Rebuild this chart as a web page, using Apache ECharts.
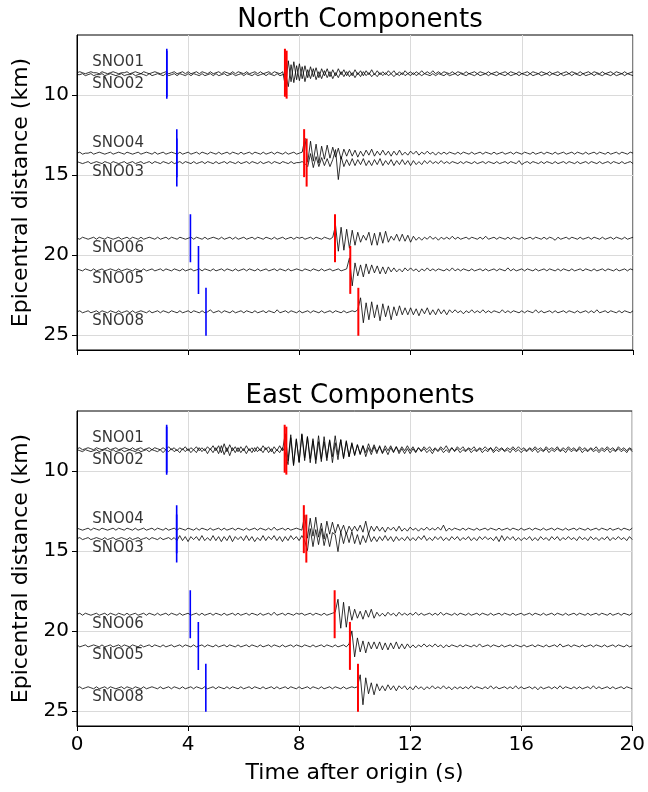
<!DOCTYPE html>
<html>
<head>
<meta charset="utf-8">
<script src="https://cdn.jsdelivr.net/npm/echarts@6/dist/echarts.min.js"></script>
<style>
html,body{margin:0;padding:0;background:#fff}
#chart{width:648px;height:792px}
</style>
</head>
<body>
<div id="chart"></div>
<script>
// Sampling of the seismogram traces
const DT = 0.1;        // seconds per sample
const AMP = 1 / 16;    // km of plot offset per amplitude unit

// Stations, epicentral distances (km) and phase picks (s after origin)
const stations = ['SNO01', 'SNO02', 'SNO04', 'SNO03', 'SNO06', 'SNO05', 'SNO08'];
const distances = [8.61, 8.73, 13.64, 14.23, 18.96, 20.94, 23.56];
const pPicks = [3.23, 3.23, 3.59, 3.59, 4.08, 4.37, 4.64];
const sPicks = [7.48, 7.54, 8.17, 8.26, 9.28, 9.83, 10.12];
const labelAbove = [true, false, true, false, false, false, false];

const xTicks = [0, 4, 8, 12, 16, 20];
const yTicks = [10, 15, 20, 25];
const panelTitles = ['North Components', 'East Components'];

// North component traces (amplitude units, one sample every DT seconds)
const northSNO01 = [
0,1,0,-1,0,1,0,0,-1,1,0,-1,0,1,0,-1,0,0,1,-1,
0,1,0,-1,1,0,-1,0,1,0,-1,0,1,-1,0,1,-1,0,1,-1,
1,-1,0,1,-1,1,0,-1,1,-1,0,1,-1,1,0,-1,1,-1,1,0,
-1,1,-1,0,1,-1,1,-1,0,1,-1,1,0,-1,1,-14,12,-9,11,-7,
9,-6,7,-5,6,-4,5,-5,4,-3,4,-4,3,-3,4,-2,3,-3,2,-3,
3,-2,2,-3,2,-2,3,-2,2,-2,1,-2,2,-1,2,-2,1,-2,2,-1,
1,-2,1,-1,2,-1,1,-1,2,-1,1,-1,1,0,-1,1,-1,1,0,-1,
1,-1,0,1,-1,1,0,-1,1,-1,0,1,-1,0,1,-1,1,0,-1,1,
-1,0,1,-1,1,0,-1,1,0,-1,1,-1,0,1,-1,0,1,-1,1,0,
-1,1,-1,0,1,-1,1,0,-1,1,-1,0,1,-1,1,0,-1,1,-1,0,1];
const northSNO02 = [
0,0,1,-1,0,1,-1,0,0,1,-1,0,1,0,-1,0,1,-1,0,0,
1,-1,0,1,0,-1,1,-1,0,1,0,-1,1,-1,0,1,-1,1,0,-1,
1,-1,1,0,-1,1,-1,0,1,-1,1,-1,0,1,-1,0,1,-1,0,1,
-1,1,0,-1,1,-1,0,1,-1,1,0,-1,1,-1,0,1,-12,10,-8,9,
-6,8,-7,5,-4,6,-5,3,-4,4,-3,3,-4,2,-3,3,-2,3,-2,2,
-3,2,-2,3,-1,2,-2,1,-2,2,-1,2,-1,1,-2,1,-1,2,-1,1,
-1,2,-1,1,-1,1,0,-1,1,-1,1,0,-1,1,-1,0,1,-1,1,0,
-1,1,0,-1,1,-1,0,1,-1,1,0,-1,1,0,-1,1,-1,0,1,-1,
1,0,-1,1,-1,0,1,-1,0,1,-1,1,0,-1,1,-1,0,1,-1,1,
0,-1,1,-1,0,1,-1,1,0,-1,1,0,-1,1,-1,0,1,-1,1,0,-1];
const northSNO04 = [
0,1,-1,0,0,1,-1,0,1,0,-1,0,1,-1,0,1,0,-1,1,0,
-1,0,1,-1,0,1,0,-1,1,-1,0,1,-1,0,1,0,-1,1,-1,0,
1,-1,0,1,-1,1,0,-1,1,0,-1,1,-1,0,1,-1,1,0,-1,1,
-1,0,1,-1,1,0,-1,1,-1,0,1,-1,1,0,-1,1,-1,0,1,-1,
0,1,15,-9,12,-8,9,-10,7,-6,8,-5,6,-4,5,-6,4,-3,4,-3,
3,-4,2,-3,3,-2,4,-3,2,-2,3,-2,2,-3,2,-2,3,-2,1,-2,
2,-1,2,-2,1,-1,2,-1,1,-2,1,-1,1,-1,1,0,-1,1,-1,1,
0,-1,1,-1,0,1,-1,1,0,-1,1,-1,0,1,-1,0,1,-1,1,0,
-1,1,0,-1,1,-1,0,1,-1,1,0,-1,1,-1,0,1,-1,0,1,-1,
1,0,-1,1,-1,0,1,-1,1,0,-1,1,-1,0,1,-1,1,0,-1,1,0];
const northSNO03 = [
1,0,-1,0,1,-1,0,1,0,-1,1,0,-1,1,0,-1,0,1,-1,0,
1,-1,0,1,-1,0,1,-1,1,0,-1,1,0,-1,1,-1,0,1,-1,1,
0,-1,1,-1,0,1,-1,1,0,-1,1,-1,0,1,-1,1,0,-1,1,-1,
0,1,-1,1,0,-1,1,-1,0,1,-1,1,0,-1,1,0,-1,1,-1,0,
0,1,-1,-4,9,-5,6,-4,5,-3,4,-4,3,13,-17,6,-4,3,-3,4,
-3,3,-2,4,-3,2,-3,3,-2,4,-3,2,-2,3,-3,2,-2,3,-2,2,
-3,2,-2,1,-2,2,-1,2,-1,1,-1,2,-1,1,-1,1,0,-1,1,-1,
1,0,-1,1,-1,0,1,-1,1,0,-1,1,-1,0,1,-1,1,0,-1,2,
-2,0,1,-1,1,0,-1,1,-1,1,0,-1,1,-1,0,1,-1,1,0,-1,
1,-1,0,1,-1,1,0,-1,1,-1,0,1,-1,1,0,-1,1,-1,0,1,-1];
const northSNO06 = [
0,-1,1,0,-1,0,1,-1,1,0,-1,1,0,-1,0,1,-1,0,1,-1,
1,0,-1,1,-1,0,1,0,-1,1,-1,0,1,-1,1,0,-1,1,0,-1,
0,1,-1,1,0,-1,1,-1,0,1,0,-1,1,-1,0,1,-1,1,-1,0,
1,-1,0,1,-1,1,0,-1,1,0,-1,1,-1,0,1,-1,0,1,-1,1,
0,1,-1,0,1,-1,1,0,-1,1,0,-1,1,13,-13,11,-12,9,-10,8,
-7,6,-4,3,-2,6,-7,5,-7,6,-5,7,-4,2,-2,4,-3,4,-3,3,
-4,2,-2,1,-2,1,-1,2,-1,1,-2,1,-1,1,-1,2,-1,1,-1,0,
1,-1,1,0,-1,1,-1,2,-1,0,1,-1,1,0,-1,1,-1,1,0,-1,
1,-1,0,1,-1,1,0,-1,1,-1,1,0,-2,1,-1,0,1,-1,1,0,
-1,1,-1,0,1,-1,1,0,-1,1,-1,0,1,-1,1,0,-1,1,-1,0,1];
const northSNO05 = [
1,0,-1,1,0,-1,1,-1,0,1,-1,0,1,0,-1,1,-1,0,1,0,
-1,1,0,-1,1,-1,0,1,-1,0,1,-1,1,0,-1,1,0,-1,1,-1,
0,1,-1,0,1,-1,1,0,-1,1,-1,0,1,-1,1,0,-1,1,-1,0,
1,-1,1,0,-1,1,-1,0,1,-1,0,1,-1,1,0,-1,1,-1,0,1,
0,-1,1,0,-1,1,0,-1,1,-1,0,1,-1,0,1,-1,0,1,12,-16,
7,-6,5,-7,6,-4,5,-3,4,-4,3,-4,3,-2,2,-2,1,-2,2,-1,
2,-1,1,-2,1,-1,2,-1,1,-1,1,0,-1,1,-1,2,-1,1,-1,1,
0,-1,1,-1,0,1,-1,1,-1,0,1,-1,1,0,-1,2,-1,1,-1,0,
1,-1,1,0,-1,1,-1,0,1,-1,1,0,-1,1,-1,1,0,-1,1,-1,
0,1,-1,1,0,-1,1,-1,0,1,-1,1,0,-1,1,-1,0,1,-1,1,0];
const northSNO08 = [
0,1,-1,0,1,-1,0,1,-1,1,0,-1,1,0,-1,1,-1,0,1,-1,
1,-1,0,1,0,-1,1,-1,0,1,-1,1,0,-1,1,0,-1,1,-1,0,
1,-1,1,0,-1,1,-1,0,2,-1,0,1,-1,1,0,-1,1,-1,0,1,
-1,1,0,-1,1,-1,0,1,-1,1,0,-1,2,-1,0,1,-1,1,0,-1,
1,-1,0,1,-1,1,0,-1,1,-1,0,1,-1,1,0,-1,1,-1,0,1,
0,2,14,-11,9,-8,10,-6,7,-9,8,-5,6,-8,5,-4,6,-3,4,-3,
4,-3,3,-4,3,-2,4,-3,2,-3,3,-2,2,-3,2,-1,2,-1,1,-2,
1,-1,2,-1,1,-1,2,-1,1,-1,1,0,-1,2,-1,1,-1,1,0,-1,
1,-1,1,0,-1,2,-1,1,-1,0,1,-1,1,-1,0,1,-1,1,0,-1,
1,-1,0,1,-1,1,-1,2,-1,0,1,-1,1,0,-1,1,-1,1,0,-1,1];

// East component traces
const eastSNO01 = [
0,1,-1,0,1,0,-1,1,0,-1,0,1,-1,0,1,-1,0,1,0,-1,
1,-1,0,1,-1,0,1,-1,1,0,-1,1,-1,2,-1,1,-2,1,-1,2,
-2,1,-1,2,-2,1,-2,2,-1,3,-2,3,-4,5,-3,4,-2,2,-3,2,
-2,3,-2,1,-3,2,-2,3,-1,2,-3,2,-2,3,-2,15,-12,14,-16,10,
-13,15,-9,12,-14,8,-11,13,-10,7,-12,9,-8,13,-6,9,-10,7,-8,5,
-6,4,-5,3,-4,5,-3,4,-3,2,-4,3,-2,3,-3,2,-3,2,-2,3,
-2,2,-3,1,-2,2,-1,2,-2,1,-2,2,-1,3,-2,1,-2,2,-1,2,
-2,1,-1,2,-2,1,-1,2,-1,1,-2,2,-1,1,-2,1,-1,2,-1,2,
-1,1,-2,1,-1,2,-1,1,-2,2,-1,1,-1,2,-2,1,-1,2,-1,1,
-2,2,-1,1,-2,1,-1,2,-2,1,-1,2,-1,1,-2,2,-1,1,-2,1,-1];
const eastSNO02 = [
1,0,-1,1,0,-1,0,1,-1,0,1,0,-1,1,-1,0,1,-1,0,1,
0,-1,1,-1,0,1,-1,1,0,-1,1,-2,1,-1,2,-1,1,-2,2,-1,
2,-2,1,-2,3,-1,2,-3,2,-2,3,-3,5,-4,3,-5,3,-2,3,-2,
2,-3,2,-2,3,-1,2,-2,3,-2,2,-3,1,-2,3,-2,-14,13,-15,11,
-12,16,-10,14,-8,12,-13,9,-11,14,-7,10,-12,8,-9,11,-7,10,-6,8,
-5,6,-4,5,-6,3,-4,4,-3,5,-3,2,-4,3,-2,4,-3,2,-3,2,
-3,2,-2,3,-1,2,-2,1,-3,2,-1,2,-2,1,-2,3,-1,2,-2,1,
-1,2,-2,1,-1,2,-2,1,-1,3,-2,1,-1,2,-1,1,-2,2,-1,1,
-2,1,-1,2,-1,2,-2,1,-1,2,-2,1,-1,2,-1,1,-2,2,-1,1,
-1,2,-2,1,-1,2,-1,1,-2,1,-1,2,-2,1,-1,2,-1,1,-2,2,-1];
const eastSNO04 = [
1,0,-1,0,1,-1,1,0,-1,1,0,-1,0,1,-1,1,0,-1,1,0,
-1,1,-1,0,1,-1,0,1,-1,1,0,-1,1,-1,0,1,-1,1,0,-1,
1,0,-1,1,-1,1,0,-1,1,-1,0,1,-1,1,-1,0,1,-1,1,0,
-1,1,-1,0,1,-1,1,0,-1,1,-1,2,-1,0,1,-1,1,-1,0,1,
0,-1,14,-9,11,-7,12,-8,6,-10,8,-5,7,-4,5,-3,4,-5,3,-2,
3,-2,4,-3,8,-5,3,-2,3,-2,2,-3,2,-1,2,-2,3,-2,1,-2,
2,-1,1,-2,1,-1,2,-1,1,-1,2,-1,4,-2,1,-1,1,0,-1,1,
-1,1,0,-1,1,-1,0,1,-1,1,0,-1,1,-1,0,1,-1,1,0,-1,
1,-1,0,1,-1,1,0,-1,1,-1,0,1,-1,1,0,-1,1,-1,0,1,
-1,1,0,-1,1,-1,0,1,-1,1,0,-1,1,-1,0,1,-1,1,0,-1,1];
const eastSNO03 = [
0,1,-1,0,1,-1,0,1,0,-1,1,-1,0,1,-1,0,1,0,-1,1,
-1,0,1,-1,0,1,-1,1,0,-1,1,-1,0,1,-1,1,-2,3,-2,2,
-3,2,-1,2,-2,3,-2,1,-2,3,-2,2,-3,2,-2,3,-3,2,-1,2,
-2,3,-2,2,-3,1,-2,3,-2,2,-1,3,-2,2,-3,2,-2,3,-1,2,
-2,3,-2,-12,10,-8,9,-6,10,-7,5,-8,6,4,-13,7,-5,6,-4,7,
-5,4,-6,3,-4,5,-3,2,-3,2,-2,3,-2,2,-3,2,-2,1,-2,2,
-2,1,-2,2,-1,3,-2,1,-2,2,-1,2,-2,1,-2,2,-1,2,-2,1,
-1,2,-2,1,-2,2,-1,2,-1,1,-2,2,-3,3,-2,2,-1,2,-2,1,
-2,1,-1,2,-2,1,-2,2,-1,1,-2,2,-1,2,-2,1,-1,2,-1,1,
-2,2,-1,1,-2,2,-1,1,-2,1,-1,2,-2,1,-1,2,-1,1,-2,2,-1];
const eastSNO06 = [
0,1,-1,1,0,-1,0,1,-1,0,1,-1,1,0,-1,1,0,-1,1,-1,
0,1,-1,0,1,-1,1,0,-1,1,-1,0,1,-1,1,0,-1,1,-1,0,
1,-1,0,1,-1,1,-1,0,1,-1,1,0,-1,1,-1,0,1,-1,1,-1,
0,1,-1,1,0,-1,1,-1,0,1,-1,2,-1,0,1,-1,1,0,-1,1,
0,1,-1,0,1,-1,1,0,-1,1,-1,0,1,2,15,-14,12,-13,8,-6,
5,-4,3,-5,4,-3,5,-4,2,-2,1,-2,2,-1,1,-2,2,-1,1,-1,
1,-1,2,-1,1,-1,0,1,-1,1,-1,2,-1,1,0,-1,1,-1,1,0,
-1,1,-1,0,1,-1,1,0,-1,1,-1,0,1,-1,1,0,-1,1,-1,0,
1,-1,0,1,-1,1,0,-1,1,-1,0,1,-1,1,0,-1,1,-1,0,1,
-1,1,0,-1,1,-1,0,1,-1,1,0,-1,1,-1,0,1,-1,1,0,-1,1];
const eastSNO05 = [
1,-1,0,1,-1,0,1,0,-1,1,-1,0,1,-1,0,1,-1,1,0,-1,
1,0,-1,1,-1,0,1,-1,1,0,-1,1,-1,0,1,-1,0,1,-1,1,
0,-1,1,-1,0,1,-1,1,0,-1,1,-1,0,1,-1,1,0,-1,1,-1,
0,1,-1,1,0,-1,1,-1,0,1,-1,1,0,-1,1,-1,0,1,-1,1,
0,-1,1,0,-1,1,-1,0,1,-1,1,0,-1,1,-1,0,1,-1,2,15,
-11,8,-6,5,-7,4,-3,4,-3,4,-4,3,-4,3,-3,4,-3,2,-3,2,
-2,1,-2,1,-1,2,-1,1,-1,2,-1,1,-2,1,-1,1,0,-1,1,-1,
1,0,-1,1,-1,2,-1,0,1,-1,1,0,-1,1,-1,0,1,-1,1,0,
-1,1,-1,0,1,-1,1,0,-1,1,-1,0,1,-1,2,-1,0,1,-1,1,
0,-1,1,-1,0,1,-1,1,0,-1,1,-1,0,1,-1,1,0,-1,1,-1,0];
const eastSNO08 = [
0,1,-1,0,1,0,-1,1,-1,0,1,-1,1,0,-1,0,1,-1,1,0,
-1,1,0,-1,1,-1,0,1,0,-1,1,-1,0,1,-1,1,0,-1,1,-1,
0,1,-1,1,0,-1,1,-1,0,1,-1,1,0,-1,1,-1,1,0,-1,1,
-1,0,1,-1,1,0,-1,1,-1,0,1,-1,1,-1,0,1,-1,1,0,-1,
1,-1,0,1,-1,1,0,-1,1,-1,0,1,-1,1,0,-1,1,-1,0,1,
0,1,13,-17,10,-6,5,-7,4,-3,2,-3,3,-2,2,-3,2,-1,2,-2,
1,-2,2,-1,1,-2,1,-1,2,-1,1,-1,2,-1,1,-2,1,-1,1,-1,
1,-1,2,-1,1,0,-1,1,-1,2,-1,1,-1,0,1,-1,1,-1,2,-1,
1,-1,0,1,-1,1,-2,1,-1,0,1,-1,1,-1,2,-1,1,0,-1,1,
-1,1,-1,0,1,-1,2,-1,1,-1,0,1,-1,1,-1,0,1,-1,1,0,-1];

const northTraces = [northSNO01, northSNO02, northSNO04, northSNO03, northSNO06, northSNO05, northSNO08];
const eastTraces = [eastSNO01, eastSNO02, eastSNO04, eastSNO03, eastSNO06, eastSNO05, eastSNO08];

// ---------------------------------------------------------------------------
const FONT = 'DejaVu Sans';
const Y_MIN = 6.25, Y_MAX = 25.95;
const PICK_HALF = 1.5;            // half-length of pick markers (km)
const GRIDS = [
  { left: 77, right: 15, top: 35, height: 315 },
  { left: 77, right: 15, top: 411, height: 315 }
];

const grid = GRIDS.map(g => Object.assign({ show: true, borderColor: '#000', borderWidth: 1, backgroundColor: 'transparent' }, g));

const xAxis = GRIDS.map((g, k) => ({
  gridIndex: k, type: 'value', min: 0, max: 20, interval: 4,
  name: k === 1 ? 'Time after origin (s)' : '',
  nameLocation: 'middle', nameGap: 36,
  nameTextStyle: { fontSize: 22, color: '#000', fontFamily: FONT },
  axisLine: { show: true, lineStyle: { color: '#000', width: 1 } },
  axisTick: { show: true, inside: false, length: 5, lineStyle: { color: '#000' } },
  axisLabel: { show: k === 1, fontSize: 20, color: '#000', margin: 9, fontFamily: FONT },
  splitLine: { show: true, lineStyle: { color: '#dadada', width: 1 } }
}));

const yAxis = GRIDS.map((g, k) => ({
  gridIndex: k, type: 'value', inverse: true, min: Y_MIN, max: Y_MAX,
  name: 'Epicentral distance (km)', nameLocation: 'middle', nameGap: 40, nameRotate: 90,
  nameTextStyle: { fontSize: 22, color: '#000', fontFamily: FONT },
  axisLine: { show: true, lineStyle: { color: '#000', width: 1 } },
  axisTick: { show: true, inside: false, length: 5, customValues: yTicks, lineStyle: { color: '#000' } },
  axisLabel: { customValues: yTicks, fontSize: 20, color: '#000', margin: 8, fontFamily: FONT },
  splitLine: { show: true, lineStyle: { color: '#dadada', width: 1 } }
}));

const series = [];
[northTraces, eastTraces].forEach((traces, k) => {
  // waveforms
  traces.forEach((vals, s) => {
    series.push({
      type: 'line', xAxisIndex: k, yAxisIndex: k, silent: true, animation: false,
      symbol: 'none', z: 2,
      lineStyle: { color: '#000', width: 0.8 },
      data: vals.map((a, i) => [Math.round(i * DT * 100) / 100, distances[s] - a * AMP])
    });
  });
  // P and S picks
  stations.forEach((st, s) => {
    series.push({
      type: 'line', xAxisIndex: k, yAxisIndex: k, silent: true, animation: false,
      symbol: 'none', z: 3, lineStyle: { color: '#0000ff', width: 1.6 },
      data: [[pPicks[s], distances[s] - PICK_HALF], [pPicks[s], distances[s] + PICK_HALF]]
    });
    series.push({
      type: 'line', xAxisIndex: k, yAxisIndex: k, silent: true, animation: false,
      symbol: 'none', z: 3, lineStyle: { color: '#ff0000', width: 2 },
      data: [[sPicks[s], distances[s] - PICK_HALF], [sPicks[s], distances[s] + PICK_HALF]]
    });
  });
  // station names
  series.push({
    type: 'scatter', xAxisIndex: k, yAxisIndex: k, silent: true, animation: false,
    symbolSize: 0, z: 4,
    label: { show: true, position: 'right', distance: 0, color: '#000', fontSize: 15, fontFamily: FONT,
             formatter: p => p.name },
    data: stations.map((st, s) => ({ name: st, value: [0.55, distances[s] + (labelAbove[s] ? -0.65 : 0.6)] }))
  });
});

const title = panelTitles.map((t, k) => ({
  text: t, left: 355, top: k === 0 ? 2 : 378, textAlign: 'center',
  textStyle: { fontSize: 26, fontWeight: 'normal', color: '#000', fontFamily: FONT }
}));

const chart = echarts.init(document.getElementById('chart'), null, { renderer: 'canvas' });
chart.setOption({ animation: false, backgroundColor: '#fff', title, grid, xAxis, yAxis, series });
</script>
</body>
</html>
